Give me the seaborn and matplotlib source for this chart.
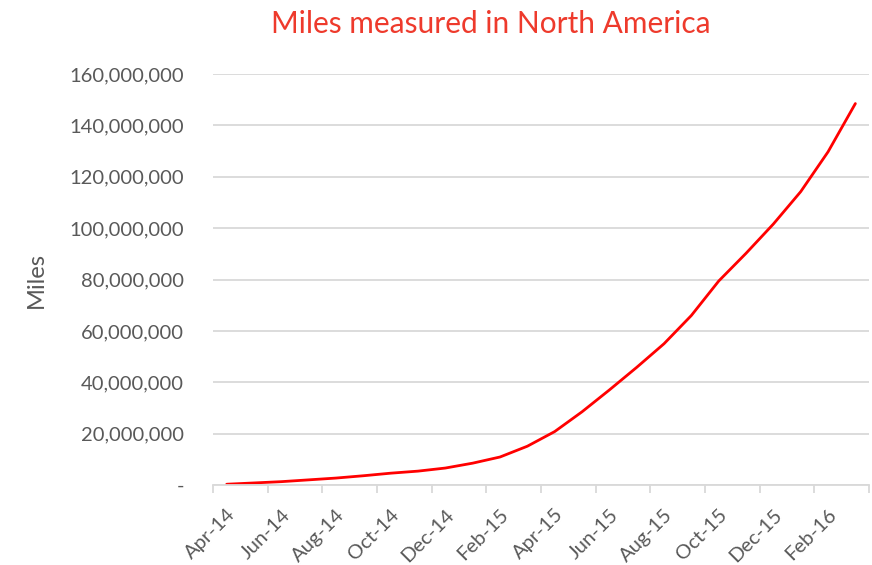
import matplotlib
matplotlib.use("Agg")
import matplotlib.pyplot as plt
import seaborn as sns
import pandas as pd
from matplotlib.ticker import FuncFormatter, FixedLocator

months = ["Apr-14", "May-14", "Jun-14", "Jul-14", "Aug-14", "Sep-14",
          "Oct-14", "Nov-14", "Dec-14", "Jan-15", "Feb-15", "Mar-15",
          "Apr-15", "May-15", "Jun-15", "Jul-15", "Aug-15", "Sep-15",
          "Oct-15", "Nov-15", "Dec-15", "Jan-16", "Feb-16", "Mar-16"]
miles = [0.3e6, 0.8e6, 1.3e6, 2.0e6, 2.7e6, 3.6e6,
         4.6e6, 5.4e6, 6.6e6, 8.5e6, 10.9e6, 15.1e6,
         20.8e6, 28.5e6, 37.0e6, 45.8e6, 55.0e6, 66.0e6,
         79.4e6, 90.2e6, 101.6e6, 114.2e6, 129.7e6, 148.5e6]
y_ticks = [0, 20e6, 40e6, 60e6, 80e6, 100e6, 120e6, 140e6, 160e6]

df = pd.DataFrame({"pos": range(len(months)), "month": months, "miles": miles})

sns.set_theme(style="white")
plt.rcParams["font.family"] = ["Lato", "DejaVu Sans"]

grey_text = "#595959"
grid_col = "#D9D9D9"

fig = plt.figure(figsize=(8.72, 5.65), dpi=100)
ax = fig.add_axes([0.2443, 0.1416, 0.7523, 0.7274])

ax.set_ylim(0, 160e6)
ax.set_xlim(-0.5, len(months) - 0.5)
ax.yaxis.set_major_locator(FixedLocator(y_ticks))
ax.grid(axis="y", color=grid_col, linewidth=1.3)
ax.set_axisbelow(True)

sns.lineplot(data=df, x="pos", y="miles", color="#FF0000", linewidth=2.0, ax=ax)

ax.yaxis.set_major_formatter(
    FuncFormatter(lambda v, p: "-" if v == 0 else f"{v:,.0f}"))
ax.tick_params(axis="y", length=0, pad=21, labelsize=14.5, labelcolor=grey_text)

# category labels every other month, tick marks between category pairs
ax.set_xticks(range(0, len(months), 2))
ax.set_xticklabels(months[::2], rotation=45, ha="right", rotation_mode="anchor")
ax.set_xticks([i - 0.5 for i in range(0, len(months) + 1, 2)], minor=True)
ax.tick_params(axis="x", which="major", length=0, pad=15, labelsize=14.5,
               labelcolor=grey_text)
ax.tick_params(axis="x", which="minor", length=6, width=1.3, color=grid_col,
               bottom=True, direction="out")

for side in ["top", "right", "left"]:
    ax.spines[side].set_visible(False)
ax.spines["bottom"].set_color(grid_col)
ax.spines["bottom"].set_linewidth(1.3)

ax.set_xlabel("")
ax.set_ylabel("Miles", fontsize=17, color=grey_text, labelpad=16)
fig.text(0.563, 0.958, "Miles measured in North America", ha="center", va="center",
         fontsize=21.5, color="#EE3A2C")

fig.savefig("out.png", dpi=100)
